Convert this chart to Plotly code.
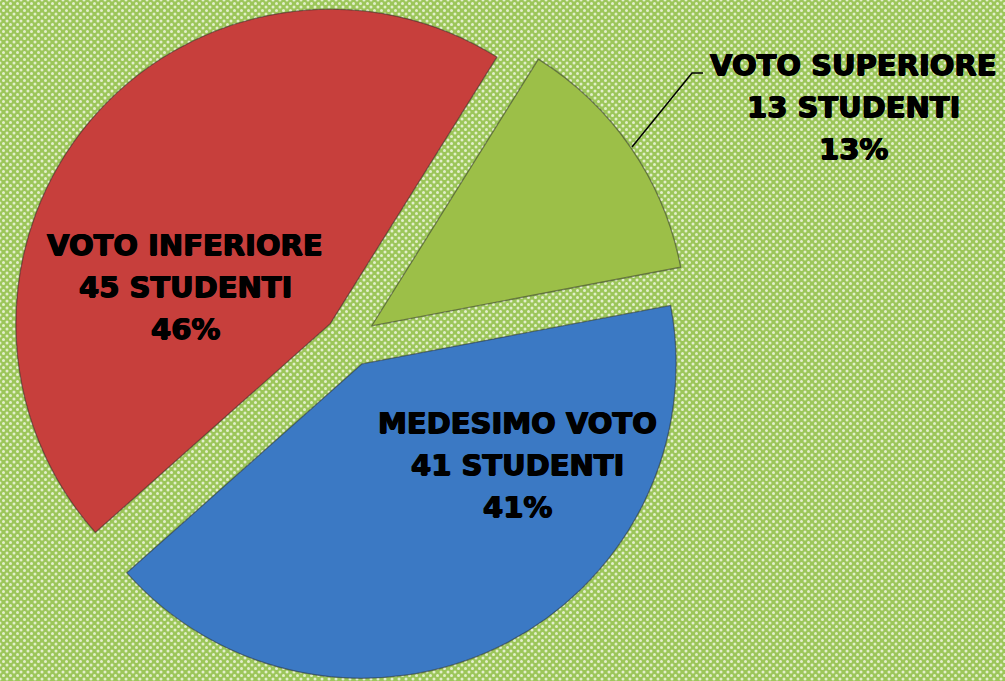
import base64
import plotly.graph_objects as go

# ---- data ----
categories = ["VOTO SUPERIORE", "MEDESIMO VOTO", "VOTO INFERIORE"]
students = [13, 41, 45]
pct_labels = ["13%", "41%", "46%"]
colors = ["#9cbf48", "#3b79c4", "#c73f3c"]

# label anchor positions (pixels from top-left of the 1005x681 figure)
label_pos = [(853, 65), (517, 423), (185, 245)]
line_gap = 42
W, H = 1005, 681

# ---- background pattern (green with white lattice) ----
svg = f"""<svg xmlns='http://www.w3.org/2000/svg' width='{W}' height='{H}'>
<defs>
<pattern id='p' width='7' height='7' patternUnits='userSpaceOnUse'>
<rect width='7' height='7' fill='#9cc65a'/>
<circle cx='0' cy='0' r='1.5' fill='#e3efcc'/>
<circle cx='7' cy='0' r='1.5' fill='#e3efcc'/>
<circle cx='0' cy='7' r='1.5' fill='#e3efcc'/>
<circle cx='7' cy='7' r='1.5' fill='#e3efcc'/>
<circle cx='3.5' cy='3.5' r='1.5' fill='#e3efcc'/>
</pattern>
</defs>
<rect width='{W}' height='{H}' fill='url(#p)'/>
</svg>"""
bg_uri = "data:image/svg+xml;base64," + base64.b64encode(svg.encode()).decode()

fig = go.Figure()
fig.add_trace(go.Pie(
    labels=categories,
    values=students,
    sort=False,
    direction="clockwise",
    rotation=32,
    pull=[0.083, 0.083, 0.083],
    marker=dict(colors=colors, line=dict(color="rgba(40,40,40,0.5)", width=1.3)),
    textinfo="none",
    hoverinfo="skip",
    showlegend=False,
    domain=dict(x=[0, 0.697], y=[0, 1]),
))

font = dict(family="DejaVu Sans", size=29, color="black", weight=700,
            shadow="0.7px 0 0 #000, -0.7px 0 0 #000, 0 0.6px 0 #000")
annotations = []
for cat, n, pct, (px, py) in zip(categories, students, pct_labels, label_pos):
    lines = [cat, f"{n} STUDENTI", pct]
    for i, t in enumerate(lines):
        annotations.append(dict(
            x=px / W, y=1 - (py + i * line_gap) / H,
            xref="paper", yref="paper",
            text=t, showarrow=False,
            xanchor="center", yanchor="middle", font=font,
        ))

# leader line for the outside label
leader = [dict(type="path", xref="paper", yref="paper",
               path=f"M {632/W},{1-147/H} L {692/W},{1-73/H} L {703/W},{1-73/H}",
               line=dict(color="black", width=1.5))]

fig.update_layout(
    width=W, height=H,
    margin=dict(l=0, r=0, t=0, b=0),
    paper_bgcolor="#a6cb68",
    plot_bgcolor="rgba(0,0,0,0)",
    images=[dict(source=bg_uri, xref="paper", yref="paper", x=0, y=1,
                 sizex=1, sizey=1, sizing="stretch", layer="below",
                 xanchor="left", yanchor="top")],
    annotations=annotations,
    shapes=leader,
)

fig.write_html("out.html",
               config={"displayModeBar": False},
               post_script="document.body.style.margin='0';document.body.style.overflow='hidden';")
